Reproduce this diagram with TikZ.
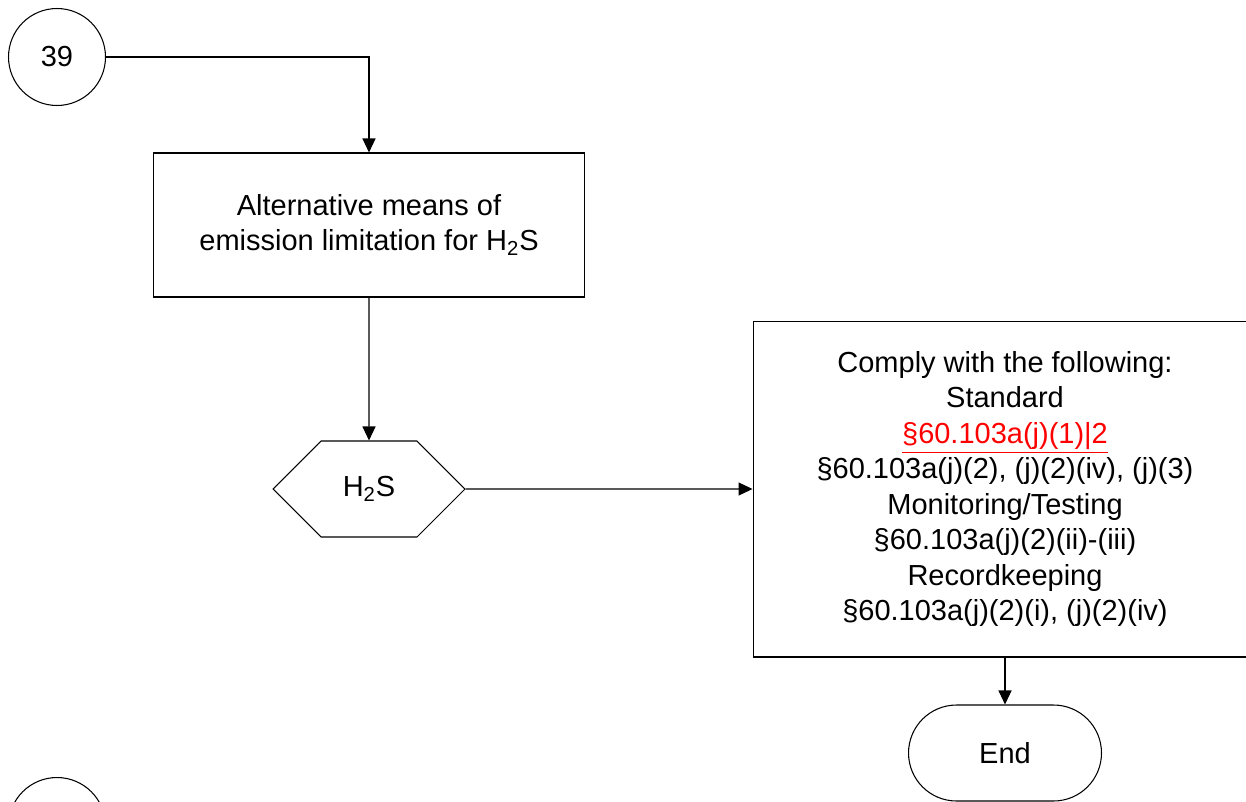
\documentclass[tikz,border=0pt]{standalone}
\usepackage{fontspec}
\setmainfont{Liberation Sans}
\usetikzlibrary{arrows.meta,shapes.symbols}

\begin{document}
\begin{tikzpicture}[
    x=0.02cm, y=-0.02cm,
    node font=\fontsize{16.5}{20.2}\selectfont,
    >={Triangle[length=0.28cm, width=0.26cm]},
    line width=0.6pt,
    conn circle/.style={circle, draw, minimum size=1.94cm, inner sep=0pt},
    proc box/.style={rectangle, draw, align=center, inner sep=0pt},
    decide hex/.style={signal, signal to=east and west, signal pointer angle=90,
        draw, minimum width=3.84cm, minimum height=1.92cm, inner sep=0pt},
    term/.style={rectangle, draw, rounded corners=0.96cm, minimum width=3.86cm,
        minimum height=1.92cm, inner sep=0pt},
    flow/.style={->},
]

\useasboundingbox (0,0) rectangle (1246,801);
\clip (0,0) rectangle (1246,801);

% Off-page connectors
\node[conn circle] (c39) at (57,57) {39};
\node[conn circle] (c40) at (57,826) {};

% Process boxes
\node[proc box, minimum width=8.64cm, minimum height=2.88cm] (altmeans) at (369,225)
    {Alternative means of\\emission limitation for H\textsubscript{2}S};
\node[proc box, minimum width=10.08cm, minimum height=6.72cm] (comply) at (1005,489)
    {Comply with the following:\\
     Standard\\
     \textcolor{red}{\underline{§60.103a(j)(1)|2}}\\
     §60.103a(j)(2), (j)(2)(iv), (j)(3)\\
     Monitoring/Testing\\
     §60.103a(j)(2)(ii)-(iii)\\
     Recordkeeping\\
     §60.103a(j)(2)(i), (j)(2)(iv)};

% Decision
\node[decide hex] (hts) at (369,489) {H\textsubscript{2}S};

% Terminator
\node[term] (finish) at (1005,753) {End};

% Connectors
\draw[flow] (c39) -| (altmeans);
\draw[flow] (altmeans) -- (hts);
\draw[flow] (hts) -- (comply);
\draw[flow] (comply) -- (finish);

\end{tikzpicture}
\end{document}
